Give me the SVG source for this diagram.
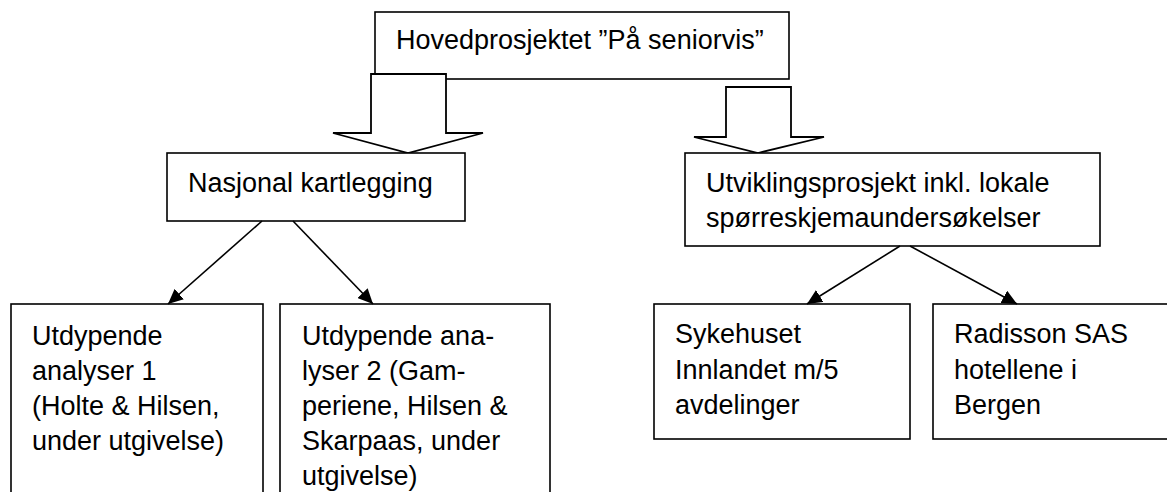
<svg xmlns="http://www.w3.org/2000/svg" width="1167" height="492" viewBox="0 0 1167 492">
<style>
.box{fill:#fff;stroke:#000;stroke-width:1.6}
.blk{fill:#fff;stroke:#000;stroke-width:1.8;stroke-linejoin:miter}
.lbl{font-family:"Liberation Sans",Arial,sans-serif;font-size:27px;fill:#000}
.con{stroke:#000;stroke-width:1.6;fill:none;marker-end:url(#ah)}
</style>
<defs>
<marker id="ah" markerUnits="userSpaceOnUse" markerWidth="16" markerHeight="14" refX="15" refY="7" orient="auto">
<path d="M0,0 L15,7 L0,14 z" fill="#000"/>
</marker>
</defs>
<rect width="1167" height="492" fill="#fff"/>
<g id="top">
<rect class="box" x="375" y="12" width="414" height="67"/>
<text class="lbl" x="396" y="49">Hovedprosjektet ”På seniorvis”</text>
</g>
<g id="block-arrows">
<polygon class="blk" points="371,74 446,74 446,133 483,133 408,153 333,133 371,133"/>
<polygon class="blk" points="726,87 791,87 791,137 824,137 758,153 694,137 726,137"/>
</g>
<g id="nasjonal">
<rect class="box" x="167" y="153" width="298" height="68"/>
<text class="lbl" x="188" y="192">Nasjonal kartlegging</text>
</g>
<g id="utvikling">
<rect class="box" x="685" y="153" width="415" height="93"/>
<text class="lbl" x="706" y="192">Utviklingsprosjekt inkl. lokale</text>
<text class="lbl" x="706" y="227">spørreskjemaundersøkelser</text>
</g>
<g id="analyser1">
<rect class="box" x="11" y="304" width="252" height="200"/>
<text class="lbl" x="32" y="345">Utdypende</text>
<text class="lbl" x="32" y="380">analyser 1</text>
<text class="lbl" x="32" y="415">(Holte &amp; Hilsen,</text>
<text class="lbl" x="32" y="450">under utgivelse)</text>
</g>
<g id="analyser2">
<rect class="box" x="280" y="304" width="270" height="200"/>
<text class="lbl" x="302" y="345">Utdypende ana-</text>
<text class="lbl" x="302" y="380">lyser 2 (Gam-</text>
<text class="lbl" x="302" y="415">periene, Hilsen &amp;</text>
<text class="lbl" x="302" y="450">Skarpaas, under</text>
<text class="lbl" x="302" y="485">utgivelse)</text>
</g>
<g id="sykehuset">
<rect class="box" x="654" y="304" width="256" height="135"/>
<text class="lbl" x="675" y="343">Sykehuset</text>
<text class="lbl" x="675" y="379">Innlandet m/5</text>
<text class="lbl" x="675" y="414">avdelinger</text>
</g>
<g id="radisson">
<rect class="box" x="933" y="304" width="250" height="135"/>
<text class="lbl" x="954" y="343">Radisson SAS</text>
<text class="lbl" x="954" y="379">hotellene i</text>
<text class="lbl" x="954" y="414">Bergen</text>
</g>
<g id="connectors">
<line class="con" x1="262" y1="221" x2="168" y2="304"/>
<line class="con" x1="293" y1="221" x2="373" y2="304"/>
<line class="con" x1="900" y1="246" x2="807" y2="304"/>
<line class="con" x1="910" y1="246" x2="1017" y2="304"/>
</g>
</svg>
